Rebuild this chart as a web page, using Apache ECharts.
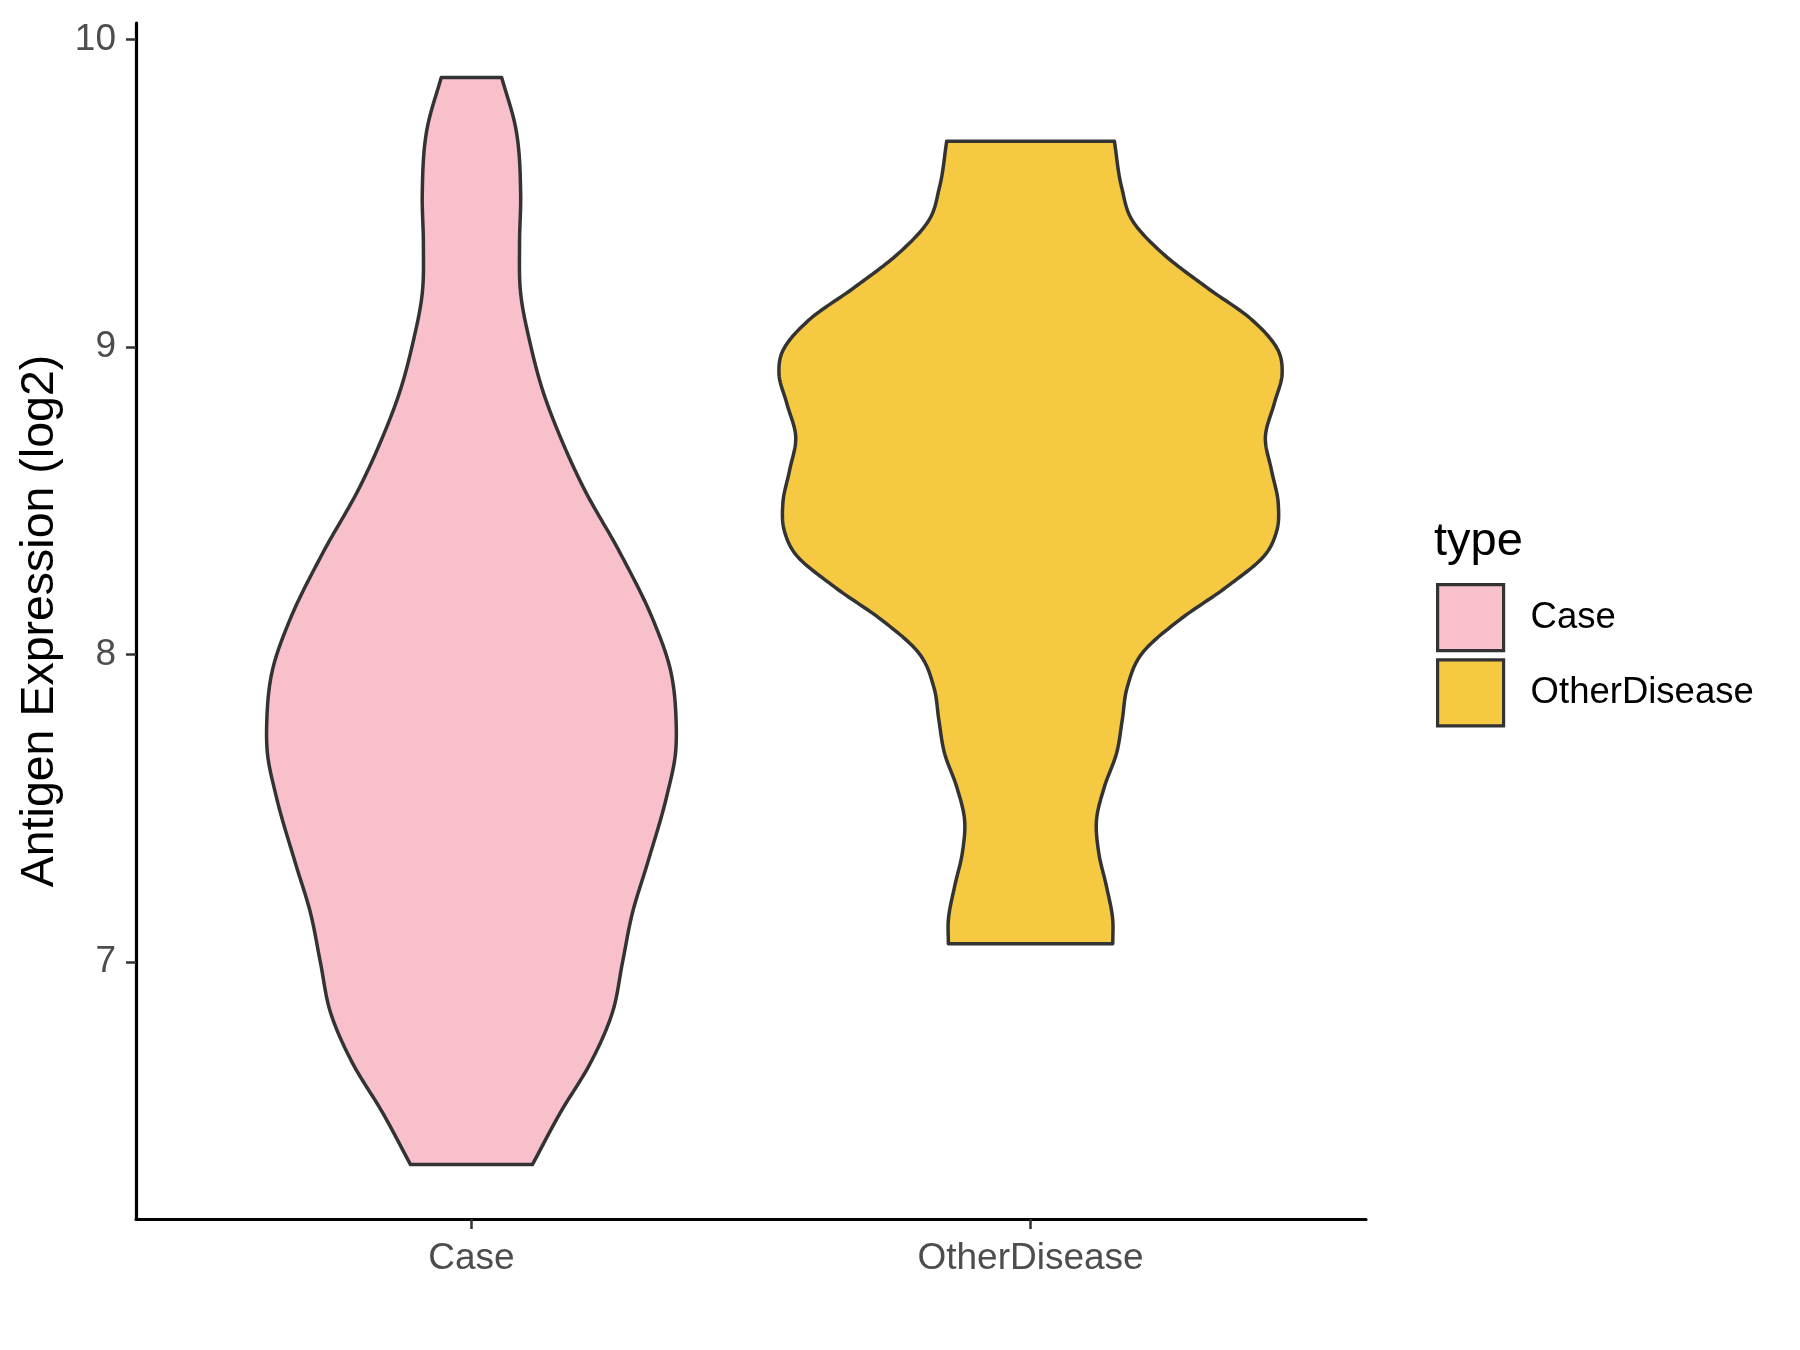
<!DOCTYPE html>
<html>
<head>
<meta charset="utf-8">
<script src="https://cdn.jsdelivr.net/npm/echarts@6/dist/echarts.min.js"></script>
<style>
  html, body { margin: 0; padding: 0; background: #fff; }
  #chart { width: 1800px; height: 1350px; }
</style>
</head>
<body>
<div id="chart"></div>
<script>
const categories = ['Case', 'OtherDisease'];
const yTicks = [7, 8, 9, 10];

// violin outlines: value -> half width (x units)
const caseValues = [9.877, 9.714, 9.50, 9.337, 9.175, 9.012, 8.85, 8.707, 8.544, 8.33, 8.112, 7.949, 7.787, 7.68, 7.537, 7.322, 7.16, 6.997, 6.835, 6.672, 6.51, 6.341];
const caseHalfWidth = [0.054, 0.079, 0.088, 0.086, 0.088, 0.105, 0.129, 0.159, 0.200, 0.266, 0.325, 0.356, 0.366, 0.365, 0.349, 0.315, 0.288, 0.270, 0.252, 0.213, 0.159, 0.109];

const otherValues = [9.669, 9.519, 9.412, 9.305, 9.194, 9.087, 8.98, 8.915, 8.817, 8.707, 8.599, 8.492, 8.40, 8.33, 8.219, 8.112, 8.005, 7.894, 7.787, 7.68, 7.569, 7.462, 7.355, 7.244, 7.137, 7.059];
const otherHalfWidth = [0.150, 0.163, 0.182, 0.236, 0.315, 0.397, 0.445, 0.450, 0.436, 0.420, 0.431, 0.443, 0.440, 0.422, 0.350, 0.266, 0.200, 0.173, 0.164, 0.154, 0.132, 0.118, 0.122, 0.136, 0.147, 0.147];

const colors = ['#F8C0CB', '#F5C942'];
const font = 'Liberation Sans, Arial, sans-serif';

function violin(pos, ys, hs, fill) {
  return function (params, api) {
    const cx = api.coord([pos, ys[0]])[0];
    const p = ys.map((y, i) => [api.size([hs[i], 0])[0], api.coord([pos, y])[1]]);
    const n = p.length;
    const gap = i => p[i + 1][1] - p[i][1];
    const sec = i => (p[i + 1][0] - p[i][0]) / gap(i);
    const slope = i => {
      if (i === 0) return sec(0);
      if (i === n - 1) return sec(n - 2);
      const h0 = gap(i - 1), h1 = gap(i);
      return (sec(i - 1) * h1 + sec(i) * h0) / (h0 + h1);
    };
    const edge = [];
    for (let i = 0; i < n - 1; i++) {
      const [w0, y0] = p[i], [w1, y1] = p[i + 1];
      const h = y1 - y0, m0 = slope(i) * h, m1 = slope(i + 1) * h;
      for (let k = 0; k < 16; k++) {
        const t = k / 16, t2 = t * t, t3 = t2 * t;
        const w = (2 * t3 - 3 * t2 + 1) * w0 + (t3 - 2 * t2 + t) * m0 + (-2 * t3 + 3 * t2) * w1 + (t3 - t2) * m1;
        edge.push([w, y0 + h * t]);
      }
    }
    edge.push(p[n - 1]);
    const pts = edge.map(([w, y]) => [cx + w, y])
      .concat(edge.slice().reverse().map(([w, y]) => [cx - w, y]));
    return {
      type: 'polygon',
      shape: { points: pts },
      style: { fill: fill, stroke: '#333333', lineWidth: 3.5, lineJoin: 'round' }
    };
  };
}

const chart = echarts.init(document.getElementById('chart'));
chart.setOption({
  animation: false,
  backgroundColor: '#ffffff',
  textStyle: { fontFamily: font },
  title: {
    text: 'type',
    left: 1434,
    top: 519,
    padding: 0,
    textStyle: { fontSize: 47, fontWeight: 'normal', color: '#000', fontFamily: font }
  },
  legend: {
    orient: 'vertical',
    left: 1436,
    top: 583,
    padding: 0,
    itemWidth: 66,
    itemHeight: 66,
    itemGap: 6,
    icon: 'rect',
    textStyle: { fontSize: 36.5, color: '#000', fontFamily: font, padding: [0, 0, 0, 22] },
    data: categories.map((c, i) => ({
      name: c,
      itemStyle: { color: colors[i], borderColor: '#333333', borderWidth: 3.2 }
    }))
  },
  grid: { left: 136, right: 434, top: 23, bottom: 131, containLabel: false },
  xAxis: {
    type: 'value',
    min: 0.4,
    max: 2.6,
    splitLine: { show: false },
    axisLine: { show: true, onZero: false, lineStyle: { color: '#000', width: 3.2 } },
    axisTick: { show: true, customValues: [1, 2], length: 10, lineStyle: { color: '#333', width: 2.5 } },
    axisLabel: {
      customValues: [1, 2],
      formatter: v => categories[Math.round(v) - 1],
      fontSize: 37,
      color: '#4D4D4D',
      margin: 21,
      fontFamily: font
    }
  },
  yAxis: {
    type: 'value',
    min: 6.164,
    max: 10.054,
    name: 'Antigen Expression (log2)',
    nameLocation: 'middle',
    nameGap: 72,
    nameTextStyle: { fontSize: 46.5, color: '#000', fontFamily: font },
    splitLine: { show: false },
    axisLine: { show: true, onZero: false, lineStyle: { color: '#000', width: 3.2 } },
    axisTick: { show: true, customValues: yTicks, length: 10, lineStyle: { color: '#333', width: 2.5 } },
    axisLabel: {
      customValues: yTicks,
      fontSize: 37,
      color: '#4D4D4D',
      margin: 20,
      fontFamily: font
    }
  },
  series: [
    {
      name: categories[0],
      type: 'custom',
      coordinateSystem: 'cartesian2d',
      itemStyle: { color: colors[0] },
      data: [[1, caseValues[0]]],
      renderItem: violin(1, caseValues, caseHalfWidth, colors[0])
    },
    {
      name: categories[1],
      type: 'custom',
      coordinateSystem: 'cartesian2d',
      itemStyle: { color: colors[1] },
      data: [[2, otherValues[0]]],
      renderItem: violin(2, otherValues, otherHalfWidth, colors[1])
    }
  ]
});
</script>
</body>
</html>
